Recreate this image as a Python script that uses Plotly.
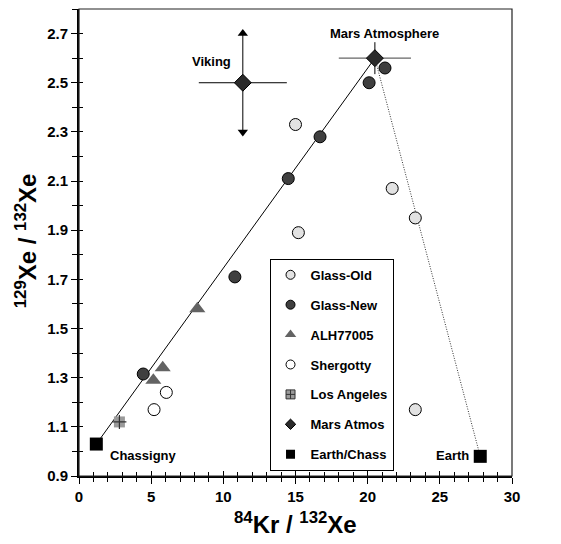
import plotly.graph_objects as go

# ---- data ----
glass_old_x = [15.0, 15.2, 21.7, 23.3, 23.3]
glass_old_y = [2.33, 1.89, 2.07, 1.95, 1.17]

glass_new_x = [20.1, 21.2, 16.7, 14.5, 10.8, 4.45]
glass_new_y = [2.50, 2.56, 2.28, 2.11, 1.71, 1.315]

alh_x = [8.2, 5.8, 5.15]
alh_y = [1.58, 1.34, 1.29]

shergotty_x = [6.05, 5.2]
shergotty_y = [1.24, 1.17]

la_x = [2.8]
la_y = [1.12]

viking_x = [11.35]
viking_y = [2.50]
viking_err_x = [3.05]
viking_err_y = [0.2]

mars_atm_x = [20.5]
mars_atm_y = [2.60]
mars_atm_err_x = [2.5]
mars_atm_err_y = [0.065]

earth_chass_x = [1.2, 27.8]
earth_chass_y = [1.03, 0.98]

mix_line_x = [1.2, 20.5]
mix_line_y = [1.03, 2.60]
earth_line_x = [20.5, 27.8]
earth_line_y = [2.60, 0.98]

point_labels = ["Mars Atmosphere", "Viking", "Chassigny", "Earth"]
label_x = [21.2, 9.2, 4.5, 25.9]
label_y = [2.70, 2.585, 0.985, 0.985]

legend_names = ["Glass-Old", "Glass-New", "ALH77005", "Shergotty",
                "Los Angeles", "Mars Atmos", "Earth/Chass"]

x_title = "<sup>84</sup>Kr / <sup>132</sup>Xe"
y_title = "<sup>129</sup>Xe / <sup>132</sup>Xe"

FONT = "Liberation Sans, Arial, sans-serif"

fig = go.Figure()

# mixing lines
fig.add_trace(go.Scatter(x=mix_line_x, y=mix_line_y, mode="lines",
                         line=dict(color="black", width=1), showlegend=False, hoverinfo="skip"))
fig.add_trace(go.Scatter(x=earth_line_x, y=earth_line_y, mode="lines",
                         line=dict(color="#333", width=1, dash="1px,1.5px"), showlegend=False, hoverinfo="skip"))

# Mars atmosphere estimates with uncertainty bars
fig.add_trace(go.Scatter(x=viking_x, y=viking_y, mode="markers",
                         marker=dict(symbol="diamond", size=13, color="#2b2b2b",
                                     line=dict(color="black", width=1)),
                         error_x=dict(type="data", array=viking_err_x, color="black", thickness=1, width=0),
                         error_y=dict(type="data", array=viking_err_y, color="black", thickness=1, width=0),
                         showlegend=False))
fig.add_trace(go.Scatter(x=[viking_x[0], viking_x[0]],
                         y=[viking_y[0] + viking_err_y[0], viking_y[0] - viking_err_y[0]],
                         mode="markers",
                         marker=dict(symbol=["triangle-up", "triangle-down"], size=9, color="black"),
                         showlegend=False, hoverinfo="skip"))
fig.add_trace(go.Scatter(x=mars_atm_x, y=mars_atm_y, mode="markers",
                         marker=dict(symbol="diamond", size=13, color="#2b2b2b",
                                     line=dict(color="black", width=1)),
                         error_x=dict(type="data", array=mars_atm_err_x, color="#666", thickness=1.2, width=0),
                         error_y=dict(type="data", array=mars_atm_err_y, color="black", thickness=1, width=0),
                         showlegend=False))

# sample data
fig.add_trace(go.Scatter(x=glass_old_x, y=glass_old_y, mode="markers", showlegend=False,
                         marker=dict(symbol="circle", size=12, color="#e2e2e2",
                                     line=dict(color="black", width=1))))
fig.add_trace(go.Scatter(x=glass_new_x, y=glass_new_y, mode="markers", showlegend=False,
                         marker=dict(symbol="circle", size=12, color="#3f3f3f",
                                     line=dict(color="black", width=1))))
fig.add_trace(go.Scatter(x=alh_x, y=alh_y, mode="markers", showlegend=False,
                         marker=dict(symbol="triangle-up", size=14, color="#636363",
                                     line=dict(width=0))))
fig.add_trace(go.Scatter(x=shergotty_x, y=shergotty_y, mode="markers", showlegend=False,
                         marker=dict(symbol="circle", size=12, color="white",
                                     line=dict(color="black", width=1))))
fig.add_trace(go.Scatter(x=la_x, y=la_y, mode="markers", showlegend=False,
                         marker=dict(symbol="square", size=11, color="#9a9a9a", line=dict(width=0))))
fig.add_trace(go.Scatter(x=la_x, y=la_y, mode="markers", showlegend=False, hoverinfo="skip",
                         marker=dict(symbol="cross-thin", size=10, color="#333",
                                     line=dict(color="#333", width=1.2))))
fig.add_trace(go.Scatter(x=earth_chass_x, y=earth_chass_y, mode="markers", showlegend=False,
                         marker=dict(symbol="square", size=13, color="black")))

# legend entries
legend_markers = [
    dict(symbol="circle", size=9, color="#e2e2e2", line=dict(color="black", width=1)),
    dict(symbol="circle", size=9, color="#3f3f3f", line=dict(color="black", width=1)),
    dict(symbol="triangle-up", size=10, color="#636363", line=dict(width=0)),
    dict(symbol="circle", size=9, color="white", line=dict(color="black", width=1)),
    dict(symbol="square-cross", size=9, color="#9a9a9a", line=dict(color="#333", width=1)),
    dict(symbol="diamond", size=8, color="#2b2b2b", line=dict(color="black", width=1)),
    dict(symbol="square", size=9, color="black", line=dict(width=0)),
]
for i, (nm, mk) in enumerate(zip(legend_names, legend_markers)):
    fig.add_trace(go.Scatter(x=[None], y=[None], mode="markers", name=nm, marker=mk,
                             legendgroup=f"g{i}", showlegend=True))

# overlay axes for inward tick halves
fig.add_trace(go.Scatter(x=[None], y=[None], xaxis="x2", yaxis="y2", showlegend=False))

for txt, lx, ly in zip(point_labels, label_x, label_y):
    fig.add_annotation(x=lx, y=ly, text=txt, showarrow=False,
                       font=dict(family=FONT, size=13, color="black", weight="bold"))

# axis titles
title_font = dict(family=FONT, size=24, color="black", weight="bold")
fig.add_annotation(xref="paper", yref="paper", x=0.5, y=-0.10, text=x_title, showarrow=False,
                   xanchor="center", yanchor="middle", font=title_font)
fig.add_annotation(xref="paper", yref="paper", x=-0.122, y=0.503, text=y_title, showarrow=False,
                   xanchor="center", yanchor="middle", textangle=-90, font=title_font)

tickfont = dict(family=FONT, size=15, color="black", weight="bold")

fig.update_layout(
    width=553, height=536,
    margin=dict(l=71, r=49, t=1, b=68),
    plot_bgcolor="white", paper_bgcolor="white",
    font=dict(family=FONT, color="black"),
    xaxis=dict(range=[0, 30], tick0=0, dtick=5, showgrid=False, zeroline=False, automargin=False,
               showline=True, linecolor="black", linewidth=2,
               ticks="outside", ticklen=6, tickwidth=1.2, tickcolor="black",
               minor=dict(dtick=1, ticks="outside", ticklen=4, tickwidth=1, tickcolor="black", showgrid=False),
               tickfont=tickfont),
    yaxis=dict(range=[0.9, 2.8], tick0=0.9, dtick=0.2, showgrid=False, zeroline=False, automargin=False,
               showline=True, linecolor="black", linewidth=2,
               ticks="outside", ticklen=6, tickwidth=1.2, tickcolor="black",
               minor=dict(dtick=0.1, ticks="outside", ticklen=5, tickwidth=1, tickcolor="black", showgrid=False),
               tickfont=tickfont, tickformat=".1f"),
    xaxis2=dict(range=[0, 30], overlaying="x", anchor="y2", side="bottom", tick0=0, dtick=5,
                automargin=False,
                showgrid=False, zeroline=False, showline=False, showticklabels=False,
                ticks="inside", ticklen=5, tickwidth=1.2, tickcolor="black",
                minor=dict(dtick=1, ticks="inside", ticklen=4, tickwidth=1, tickcolor="black", showgrid=False)),
    yaxis2=dict(range=[0.9, 2.8], overlaying="y", anchor="x2", side="left", tick0=0.9, dtick=0.2,
                automargin=False,
                showgrid=False, zeroline=False, showline=False, showticklabels=False,
                ticks="inside", ticklen=4, tickwidth=1.2, tickcolor="black",
                minor=dict(dtick=0.1, ticks="inside", ticklen=4, tickwidth=1, tickcolor="black", showgrid=False)),
    legend=dict(x=0.44, y=0.465, xanchor="left", yanchor="top",
                bgcolor="white", bordercolor="black", borderwidth=1,
                font=dict(family=FONT, size=13, color="black", weight="bold"),
                tracegroupgap=10, itemwidth=30),
    shapes=[dict(type="rect", xref="paper", yref="paper", x0=0, x1=1, y0=0, y1=1,
                 line=dict(color="#222", width=1.2), layer="above")],
)

fig.write_html("out.html")
